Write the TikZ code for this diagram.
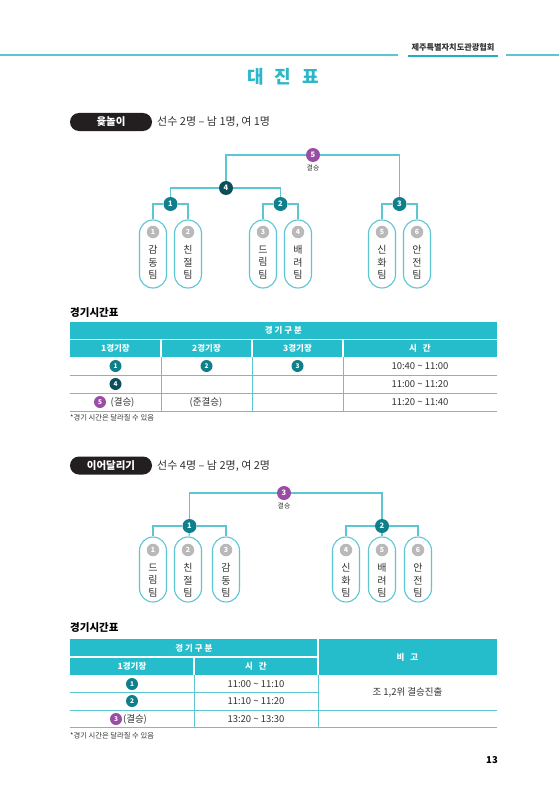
\documentclass[tikz,border=0pt]{standalone}
\usepackage{fontspec}
\setmainfont{Noto Sans CJK KR}
\definecolor{lineteal}{HTML}{5CC6D2}
\definecolor{underteal}{HTML}{21AFC0}
\definecolor{titleteal}{HTML}{2BB7C8}
\definecolor{hdrfill}{HTML}{25BDCC}
\definecolor{nodeteal}{HTML}{0F7F8B}
\definecolor{nodedark}{HTML}{0C4F5B}
\definecolor{nodepurple}{HTML}{9B4DA6}
\definecolor{graynum}{HTML}{B9B9B9}
\definecolor{txtdark}{HTML}{333333}
\definecolor{pillblack}{HTML}{231F20}
\tikzset{
  conn/.style={draw=lineteal, line width=1.1pt},
  teampill/.style={draw=lineteal, line width=1.1pt, fill=white, rounded corners=13.5pt, minimum width=27pt, inner sep=0pt},
  numgray/.style={circle, fill=graynum, text=white, minimum size=12.5pt, inner sep=0pt, font=\bfseries\fontsize{7}{7}\selectfont},
  teamtxt/.style={align=center, text=txtdark, inner sep=0pt, font=\fontsize{10}{12.5}\selectfont},
  matchnode/.style={circle, text=white, minimum size=14pt, inner sep=0pt, font=\bfseries\fontsize{7.5}{7.5}\selectfont},
  mteal/.style={matchnode, fill=nodeteal},
  mdark/.style={matchnode, fill=nodedark},
  mpurple/.style={matchnode, fill=nodepurple},
  smallnum/.style={circle, text=white, minimum size=12pt, inner sep=0pt, font=\bfseries\fontsize{6.5}{6.5}\selectfont},
  secpill/.style={fill=pillblack, text=white, rounded corners=9pt, minimum width=82pt, minimum height=18pt, inner sep=0pt, font=\bfseries\fontsize{10.5}{10.5}\selectfont},
  sectxt/.style={anchor=west, text=txtdark, inner sep=0pt, font=\fontsize{11}{11}\selectfont},
  tbltitle/.style={anchor=west, text=black, inner sep=0pt, font=\bfseries\fontsize{10.5}{10.5}\selectfont},
  hdrtxt/.style={text=white, inner sep=0pt, font=\bfseries\fontsize{8.5}{8.5}\selectfont},
  bodytxt/.style={text=txtdark, inner sep=0pt, font=\fontsize{9.5}{9.5}\selectfont},
  foot/.style={anchor=west, text=txtdark, inner sep=0pt, font=\fontsize{7.3}{7.3}\selectfont},
  tline/.style={draw=lineteal, line width=1pt},
  wline/.style={draw=white, line width=1.2pt},
  smalllbl/.style={text=txtdark, inner sep=0pt, font=\fontsize{6.8}{6.8}\selectfont}
}
\begin{document}
\begin{tikzpicture}[x=1pt,y=-1pt]
\useasboundingbox (0,0) rectangle (559,797);
\fill[white] (0,0) rectangle (559,797);

% ---------- header ----------
\coordinate (hl0) at (0,55);
\coordinate (hl1) at (398,55);
\coordinate (hr0) at (506,55);
\coordinate (hr1) at (559,55);
\draw[conn, line width=1.2pt] (hl0) -- (hl1);
\draw[conn, line width=1.2pt] (hr0) -- (hr1);
\node[text=txtdark, inner sep=0pt, font=\bfseries\fontsize{8.2}{8.2}\selectfont] (org) at (453,47) {제주특별자치도관광협회};
\coordinate (ul0) at (408,56);
\coordinate (ul1) at (498,56);
\draw[draw=underteal, line width=2.2pt] (ul0) -- (ul1);

\node[text=titleteal, inner sep=0pt, font=\bfseries\fontsize{18}{18}\selectfont] (title) at (283,77) {대\hspace{11pt}진\hspace{11pt}표};

% ---------- section 1 ----------
\node[secpill] (sec1) at (111,122) {윷놀이};
\node[sectxt] (sec1t) at (157,122) {선수 2명 – 남 1명, 여 1명};

\foreach \i/\x/\a/\b in {1/153/감/동, 2/188/친/절, 3/263/드/림, 4/298/배/려, 5/382/신/화, 6/417/안/전}{
  \node[teampill, minimum height=68pt] (a\i) at (\x,254) {};
  \node[numgray] (an\i) at (\x,232) {\i};
  \node[teamtxt] (at\i) at (\x,262.5) {\a\\\b\\팀};
}
\node[mpurple] (m5) at (313,155) {5};
\node[smalllbl] (m5l) at (313,167.5) {결승};
\node[mdark] (m4) at (226,188) {4};
\node[mteal] (m1) at (170.5,204) {1};
\node[mteal] (m2) at (280.5,204) {2};
\node[mteal] (m3) at (399.5,204) {3};
\draw[conn] (m5) -| (m4);
\draw[conn] (m5) -| (m3);
\draw[conn] (m4) -| (m1);
\draw[conn] (m4) -| (m2);
\draw[conn] (m1) -| (a1);
\draw[conn] (m1) -| (a2);
\draw[conn] (m2) -| (a3);
\draw[conn] (m2) -| (a4);
\draw[conn] (m3) -| (a5);
\draw[conn] (m3) -| (a6);

% ---------- table 1 ----------
\node[tbltitle] (tt1) at (70,313) {경기시간표};
\fill[hdrfill] (70,322) rectangle (497,357);
\draw[wline] (70,339.5) -- (497,339.5);
\draw[wline] (161,339.5) -- (161,357);
\draw[wline] (252,339.5) -- (252,357);
\draw[wline] (343,339.5) -- (343,357);
\draw[tline] (161,357) -- (161,411);
\draw[tline] (252,357) -- (252,411);
\draw[tline] (343,357) -- (343,411);
\draw[tline] (70,375) -- (497,375);
\draw[tline] (70,393) -- (497,393);
\draw[tline] (70,411) -- (497,411);
\node[hdrtxt] (h1a) at (283.5,330.75) {경 기 구 분};
\node[hdrtxt] (h1b) at (115.5,348.25) {1경기장};
\node[hdrtxt] (h1c) at (206.5,348.25) {2경기장};
\node[hdrtxt] (h1d) at (297.5,348.25) {3경기장};
\node[hdrtxt] (h1e) at (420,348.25) {시\hspace{6pt}간};
\node[smallnum, fill=nodeteal] (r1a) at (115.5,366) {1};
\node[smallnum, fill=nodeteal] (r1b) at (206.5,366) {2};
\node[smallnum, fill=nodeteal] (r1c) at (297.5,366) {3};
\node[bodytxt] (r1d) at (420,366) {10:40 \textasciitilde{} 11:00};
\node[smallnum, fill=nodedark] (r2a) at (115.5,384) {4};
\node[bodytxt] (r2d) at (420,384) {11:00 \textasciitilde{} 11:20};
\node[smallnum, fill=nodepurple] (r3a) at (100,402) {5};
\node[bodytxt] (r3b) at (122.5,402) {(결승)};
\node[bodytxt] (r3c) at (206,402) {(준결승)};
\node[bodytxt] (r3d) at (420,402) {11:20 \textasciitilde{} 11:40};
\node[foot] (fn1) at (70,418) {*경기 시간은 달라질 수 있음};

% ---------- section 2 ----------
\node[secpill] (sec2) at (111,465.5) {이어달리기};
\node[sectxt] (sec2t) at (157,465.5) {선수 4명 – 남 2명, 여 2명};

\foreach \i/\x/\a/\b in {1/153/드/림, 2/188/친/절, 3/226/감/동, 4/346/신/화, 5/382/배/려, 6/418/안/전}{
  \node[teampill, minimum height=65pt] (b\i) at (\x,569.5) {};
  \node[numgray] (bn\i) at (\x,550) {\i};
  \node[teamtxt] (bt\i) at (\x,580.5) {\a\\\b\\팀};
}
\node[mpurple] (f3) at (284,493) {3};
\node[smalllbl] (f3l) at (284,505.5) {결승};
\node[mteal] (f1) at (189.5,526) {1};
\node[mteal] (f2) at (382,526) {2};
\draw[conn] (f3) -| (f1);
\draw[conn] (f3) -| (f2);
\draw[conn] (f1) -| (b1);
\draw[conn] (f1) -| (b3);
\draw[conn] (f1) -- (b2);
\draw[conn] (f2) -| (b4);
\draw[conn] (f2) -| (b6);
\draw[conn] (f2) -- (b5);

% ---------- table 2 ----------
\node[tbltitle] (tt2) at (70,628) {경기시간표};
\fill[hdrfill] (70,639) rectangle (497,675);
\draw[wline] (318,639) -- (318,675);
\draw[wline] (70,657) -- (318,657);
\draw[wline] (194,657) -- (194,675);
\draw[tline] (194,675) -- (194,727.5);
\draw[tline] (318,675) -- (318,727.5);
\draw[tline] (70,692.5) -- (318,692.5);
\draw[tline] (70,710) -- (497,710);
\draw[tline] (70,727.5) -- (497,727.5);
\node[hdrtxt] (h2a) at (194,648) {경 기 구 분};
\node[hdrtxt] (h2b) at (132,666) {1경기장};
\node[hdrtxt] (h2c) at (256,666) {시\hspace{6pt}간};
\node[hdrtxt] (h2d) at (407.5,657) {비\hspace{6pt}고};
\node[smallnum, fill=nodeteal] (s1a) at (132,684) {1};
\node[bodytxt] (s1b) at (256,684) {11:00 \textasciitilde{} 11:10};
\node[smallnum, fill=nodeteal] (s2a) at (132,701) {2};
\node[bodytxt] (s2b) at (256,701) {11:10 \textasciitilde{} 11:20};
\node[bodytxt] (s12c) at (407.5,692.5) {조 1,2위 결승진출};
\node[smallnum, fill=nodepurple] (s3a) at (116,719) {3};
\node[bodytxt] (s3b) at (135,719) {(결승)};
\node[bodytxt] (s3c) at (256,719) {13:20 \textasciitilde{} 13:30};
\node[foot] (fn2) at (70,736) {*경기 시간은 달라질 수 있음};

% ---------- page number ----------
\node[text=black, inner sep=0pt, font=\bfseries\fontsize{9.5}{9.5}\selectfont] (pg) at (492,760) {13};
\end{tikzpicture}
\end{document}
